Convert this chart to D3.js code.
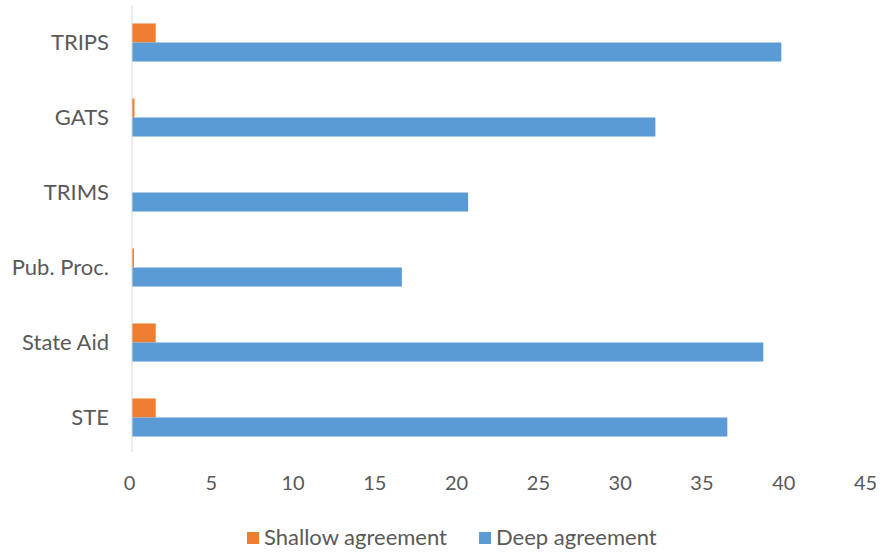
<!DOCTYPE html>
<html><head><meta charset="utf-8">
<script src="https://cdn.jsdelivr.net/npm/d3@7"></script>
<style>body{margin:0;background:#fff}svg text{font-family:Lato,"Noto Sans",sans-serif;fill:#595959}</style>
</head><body>
<svg id="c" width="888" height="552"></svg>
<script>
const categories = ["TRIPS","GATS","TRIMS","Pub. Proc.","State Aid","STE"];
const seriesNames = ["Shallow agreement","Deep agreement"];
const shallow = [1.45, 0.15, 0, 0.12, 1.45, 1.45];
const deep = [39.7, 32.0, 20.55, 16.5, 38.6, 36.4];
const xTicks = [0,5,10,15,20,25,30,35,40,45];
const colors = ["#ED7D31","#5B9BD5"];

const svg = d3.select("#c");
const x = d3.scaleLinear().domain([0,45]).range([132,868]);
const y = d3.scaleBand().domain(categories).range([5,455]).paddingInner(0).paddingOuter(0);
const inner = d3.scaleBand().domain(seriesNames).range([0,y.bandwidth()]).paddingInner(0).paddingOuter(0.97);

const rows = categories.map((c,i)=>({c, vals:[shallow[i], deep[i]]}));
const g = svg.append("g");
rows.forEach(r=>{
  r.vals.forEach((v,j)=>{
    g.append("rect")
      .attr("x", x(0))
      .attr("y", y(r.c)+inner(seriesNames[j]))
      .attr("width", x(v)-x(0))
      .attr("height", inner.bandwidth())
      .attr("fill", colors[j]);
  });
});

// y axis line
svg.append("line").attr("x1",x(0)).attr("x2",x(0)).attr("y1",5).attr("y2",452)
  .attr("stroke","#D9D9D9").attr("stroke-width",1);

// y labels
svg.selectAll(".yl").data(categories).enter().append("text")
  .attr("x",109).attr("y",d=>y(d)+y.bandwidth()/2).attr("dy","0.35em")
  .attr("text-anchor","end").attr("font-size",22).text(d=>d);

// x tick labels
const xAxis = d3.axisBottom(x).tickValues(xTicks).tickSize(0).tickPadding(0);
const ax = svg.append("g").attr("transform","translate(-3,476)").call(xAxis);
ax.select(".domain").remove();
ax.selectAll("text").attr("font-size",20).style("font-family","Lato,'Noto Sans',sans-serif").attr("fill","#595959");

// legend
const leg = [{n:seriesNames[0],c:colors[0],x:247},{n:seriesNames[1],c:colors[1],x:479}];
leg.forEach(l=>{
  svg.append("rect").attr("x",l.x).attr("y",532).attr("width",12).attr("height",12).attr("fill",l.c);
  svg.append("text").attr("x",l.x+17).attr("y",537).attr("dy","0.35em").attr("font-size",22).text(l.n);
});
</script>
</body></html>
